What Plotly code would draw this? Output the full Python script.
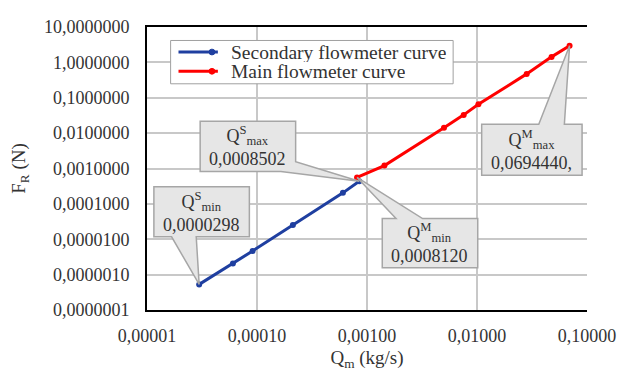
import math
import plotly.graph_objects as go

# ---------------- data ----------------
sec_name = "Secondary flowmeter curve"
sec_q = [2.98e-5, 6.04e-5, 9.12e-5, 2.12e-4, 6.04e-4, 8.502e-4]
sec_f = [5.3e-7, 2.06e-6, 4.66e-6, 2.53e-5, 2.05e-4, 4.35e-4]

main_name = "Main flowmeter curve"
main_q = [8.12e-4, 1.44e-3, 5.01e-3, 7.57e-3, 1.03e-2, 2.83e-2, 4.76e-2, 6.9444e-2]
main_f = [5.58e-4, 1.21e-3, 1.42e-2, 3.28e-2, 6.53e-2, 0.473, 1.43, 2.97]

x_tickvals = [1e-5, 1e-4, 1e-3, 1e-2, 1e-1]
x_ticktext = ["0,00001", "0,00010", "0,00100", "0,01000", "0,10000"]
y_tickvals = [1e-7, 1e-6, 1e-5, 1e-4, 1e-3, 1e-2, 1e-1, 1, 10]
y_ticktext = ["0,0000001", "0,0000010", "0,0000100", "0,0001000", "0,0010000",
              "0,0100000", "0,1000000", "1,0000000", "10,0000000"]

callout_labels = ["Q<sup>S</sup><sub>min</sub>", "Q<sup>S</sup><sub>max</sub>",
                  "Q<sup>M</sup><sub>min</sub>", "Q<sup>M</sup><sub>max</sub>"]
callout_values = ["0,0000298", "0,0008502", "0,0008120", "0,0694440,"]
callout_points = [(sec_q[0], sec_f[0]), (sec_q[-1], sec_f[-1]),
                  (main_q[0], main_f[0]), (main_q[-1], main_f[-1])]

# ---------------- layout geometry (page pixels) ----------------
W, H = 630, 374
OFF = 8            # default body margin of the html page
L, R, T, B = 140, 587, 17, 311
XR = (-5, -1)
YR = (-7, 1)
FONT = "Liberation Serif, Times New Roman, serif"
TXT = "#333333"
BLUE = "#1f3fa0"
RED = "#ff0000"


def px2paper(px, py):
    return (px - L) / (R - L), (B - py) / (B - T)


def data2paper(q, f):
    return ((math.log10(q) - XR[0]) / (XR[1] - XR[0]),
            (math.log10(f) - YR[0]) / (YR[1] - YR[0]))


fig = go.Figure()
fig.add_trace(go.Scatter(x=sec_q, y=sec_f, name=sec_name, mode="lines+markers",
                         line=dict(color=BLUE, width=3),
                         marker=dict(size=6, color=BLUE), showlegend=False))
fig.add_trace(go.Scatter(x=main_q, y=main_f, name=main_name, mode="lines+markers",
                         line=dict(color=RED, width=3),
                         marker=dict(size=6, color=RED), showlegend=False))

# callout boxes (pixel boxes) and tails
boxes = [
    ((147, 183, 244, 235), [(165, 235), (190, 235)], "bottom"),
    ((194, 115, 291, 167), [(291, 157), (276, 167)], "right"),
    ((379, 216, 476, 267), [(393, 216), (420, 216)], "top"),
    ((480, 118, 582, 171), [(538, 118), (564, 118)], "top"),
]

shapes = []
annotations = []
for (box, base, side), pt, lab, val in zip(boxes, callout_points, callout_labels, callout_values):
    x0, y0, x1, y1 = box
    tip = data2paper(*pt)
    b1 = px2paper(*base[0])
    b2 = px2paper(*base[1])
    p00 = px2paper(x0, y0)
    p10 = px2paper(x1, y0)
    p11 = px2paper(x1, y1)
    p01 = px2paper(x0, y1)
    if side == "bottom":
        pts = [p00, p10, p11, b2, tip, b1, p01]
    elif side == "top":
        pts = [p00, b1, tip, b2, p10, p11, p01]
    else:
        pts = [p00, p10, b1, tip, b2, p01]
    path = "M " + " L ".join(f"{a:.5f},{b:.5f}" for a, b in pts) + " Z"
    shapes.append(dict(type="path", xref="paper", yref="paper", path=path,
                       fillcolor="#e6e6e6", line=dict(color="#a6a6a6", width=1.5),
                       layer="above"))
    cx, cy = px2paper((x0 + x1) / 2, (y0 + y1) / 2)
    annotations.append(dict(xref="paper", yref="paper", x=cx, y=cy, showarrow=False,
                            xanchor="center", yanchor="middle",
                            text=f"{lab}<br>{val}", align="center",
                            font=dict(family=FONT, size=18, color=TXT)))

# legend box drawn by hand (Excel-like compact rows)
lg_x0, lg_y0, lg_x1, lg_y1 = 164, 31, 451, 76
a, b = px2paper(lg_x0, lg_y0)
c, d = px2paper(lg_x1, lg_y1)
shapes.append(dict(type="rect", xref="paper", yref="paper", x0=a, y0=d, x1=c, y1=b,
                   fillcolor="white", line=dict(color="#a0a0a0", width=1), layer="above"))
for name, color, row_y in [(sec_name, BLUE, 43), (main_name, RED, 63)]:
    s0 = px2paper(172, row_y)
    s1 = px2paper(212, row_y)
    shapes.append(dict(type="line", xref="paper", yref="paper", x0=s0[0], y0=s0[1],
                       x1=s1[0], y1=s1[1], line=dict(color=color, width=3), layer="above"))
    m0 = px2paper(203, row_y - 3)
    m1 = px2paper(209, row_y + 3)
    shapes.append(dict(type="circle", xref="paper", yref="paper", x0=m0[0], y0=m1[1],
                       x1=m1[0], y1=m0[1], fillcolor=color, line=dict(color=color, width=1),
                       layer="above"))
    tx, ty = px2paper(224, row_y)
    annotations.append(dict(xref="paper", yref="paper", x=tx, y=ty, showarrow=False,
                            xanchor="left", yanchor="middle", text=name,
                            height=19, valign="middle", borderpad=0,
                            font=dict(family=FONT, size=19.5, color=TXT)))

fig.update_layout(
    width=W - OFF, height=H - OFF,
    margin=dict(l=L - OFF, r=W - R, t=T - OFF, b=H - B, pad=0),
    paper_bgcolor="white", plot_bgcolor="white",
    font=dict(family=FONT, size=18, color=TXT),
    showlegend=False,
    shapes=shapes,
    annotations=annotations,
)
fig.update_xaxes(type="log", range=list(XR), tickvals=x_tickvals, ticktext=x_ticktext,
                 showgrid=True, gridcolor="#c8c8c8", gridwidth=1.5,
                 showline=True, linecolor="black", linewidth=2, mirror=True,
                 ticks="", ticklabelstandoff=8, zeroline=False,
                 title=dict(text="Q<sub>m</sub> (kg/s)", standoff=6,
                            font=dict(family=FONT, size=19, color=TXT)),
                 tickfont=dict(family=FONT, size=18, color=TXT))
fig.update_yaxes(type="log", range=list(YR), tickvals=y_tickvals, ticktext=y_ticktext,
                 showgrid=True, gridcolor="#c8c8c8", gridwidth=1.5,
                 showline=True, linecolor="black", linewidth=2, mirror=False,
                 ticks="", ticklabelstandoff=12, zeroline=False,
                 title=dict(text="F<sub>R</sub> (N)", standoff=14,
                            font=dict(family=FONT, size=19, color=TXT)),
                 tickfont=dict(family=FONT, size=18, color=TXT))

fig.write_html("out.html")
